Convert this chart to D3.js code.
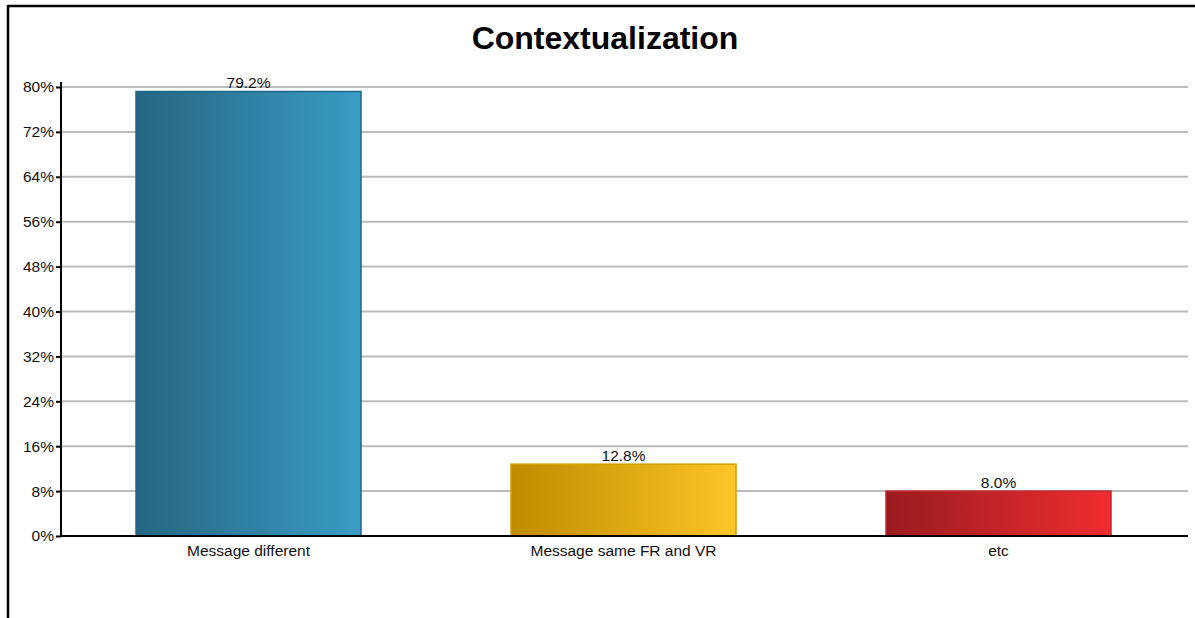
<!DOCTYPE html>
<html><head><meta charset="utf-8">
<script src="https://cdn.jsdelivr.net/npm/d3@7/dist/d3.min.js"></script>
<style>body{margin:0;background:#fff}svg{display:block;font-family:"Liberation Sans",Arial,sans-serif}</style>
</head><body><svg id="c" width="1195" height="618"></svg>
<script>
const categories = ["Message different", "Message same FR and VR", "etc"];
const values = [79.2, 12.8, 8.0];
const yTicks = [0, 8, 16, 24, 32, 40, 48, 56, 64, 72, 80];
const colorStops = [["#256680", "#3a9cc5"], ["#bf8b00", "#fec526"], ["#991b1f", "#ef2d30"]];
const strokes = ["#1f6787", "#d2a000", "#c2272b"];

const svg = d3.select("#c");
const m = {l: 61, r: 1186, t: 87, b: 536};
// frame
svg.append("line").attr("x1", 8).attr("x2", 1195).attr("y1", 6).attr("y2", 6).attr("stroke", "#000").attr("stroke-width", 2.5);
svg.append("line").attr("x1", 8).attr("x2", 8).attr("y1", 5).attr("y2", 618).attr("stroke", "#000").attr("stroke-width", 2.5);

svg.append("text").attr("x", 605).attr("y", 49).attr("text-anchor", "middle")
  .attr("font-size", 32).attr("font-weight", "bold").text("Contextualization");

const y = d3.scaleLinear().domain([0, 80]).range([m.b, m.t]);
const x = d3.scaleBand().domain(categories).range([m.l, m.r]).paddingInner(0.4).paddingOuter(0.2);

// grid
svg.append("g").selectAll("line").data(yTicks.filter(d => d > 0)).join("line")
  .attr("x1", m.l).attr("x2", 1188).attr("y1", d => y(d)).attr("y2", d => y(d))
  .attr("stroke", "#bcbcbc").attr("stroke-width", 2);

const defs = svg.append("defs");
colorStops.forEach((c, i) => {
  const g = defs.append("linearGradient").attr("id", "g" + i).attr("x1", "0").attr("x2", "1").attr("y1", "0").attr("y2", "0");
  g.append("stop").attr("offset", "0").attr("stop-color", c[0]);
  g.append("stop").attr("offset", "1").attr("stop-color", c[1]);
});

svg.append("g").selectAll("rect").data(values).join("rect")
  .attr("x", (d, i) => x(categories[i])).attr("width", x.bandwidth())
  .attr("y", d => y(d)).attr("height", d => m.b - y(d))
  .attr("fill", (d, i) => `url(#g${i})`).attr("stroke", (d, i) => strokes[i]).attr("stroke-width", 1.5);

svg.append("g").selectAll("text").data(values).join("text")
  .attr("x", (d, i) => x(categories[i]) + x.bandwidth() / 2).attr("y", d => y(d) - 3)
  .attr("text-anchor", "middle").attr("font-size", 15.5).attr("fill", "#111")
  .text(d => d.toFixed(1) + "%");

// y axis
const ya = svg.append("g").attr("transform", `translate(${m.l},0)`)
  .call(d3.axisLeft(y).tickValues(yTicks).tickFormat(d => d + "%").tickSize(5).tickPadding(2));
ya.select(".domain").attr("stroke-width", 2).attr("d", `M0,${m.t - 5}V${m.b}`);
ya.selectAll(".tick line").attr("stroke-width", 2);
ya.selectAll("text").attr("font-size", 15.5).attr("fill", "#111").attr("font-family", "Liberation Sans, Arial, sans-serif");

// x axis
const xa = svg.append("g").attr("transform", `translate(0,${m.b})`)
  .call(d3.axisBottom(x).tickSize(0).tickPadding(9));
xa.select(".domain").attr("stroke-width", 2).attr("d", `M${m.l},0H1188`);
xa.selectAll("text").attr("font-size", 15.5).attr("fill", "#111").attr("font-family", "Liberation Sans, Arial, sans-serif");
</script></body></html>
